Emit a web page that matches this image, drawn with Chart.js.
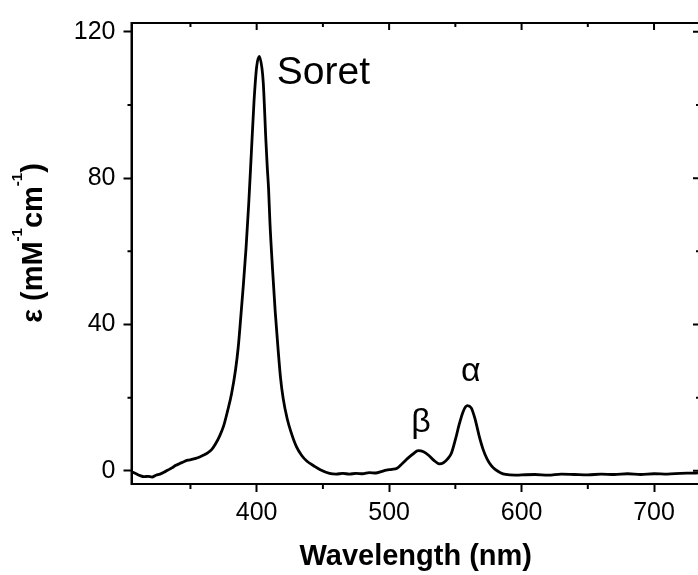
<!DOCTYPE html>
<html lang="en">
<head>
<meta charset="UTF-8">
<style>
  html, body { margin: 0; padding: 0; background: #fff; overflow: hidden; }
  #wrap { width: 704px; height: 575px; }
</style>
</head>
<body>
<div id="wrap"><canvas id="spec" width="704" height="575"></canvas></div>
<script src="https://cdn.jsdelivr.net/npm/chart.js@4.4.1/dist/chart.umd.min.js"></script>
<script>
// absorption spectrum
var wavelength = [306, 309, 312, 315, 318, 321, 324, 327, 330, 333, 336, 339, 342, 345, 348, 351, 354, 357, 360, 363, 366,
  369, 372, 375, 378, 381, 384, 386, 388, 390, 392, 394, 396, 398, 400, 402,
  404, 405, 407, 408, 409, 410, 412, 414, 416, 418, 420,
  423, 426, 430, 434, 438, 443, 448, 455, 460, 465, 470, 475, 480, 485, 490,
  494, 498, 502, 506, 510, 514, 518, 522, 526, 530, 534, 538,
  541, 544, 547, 550, 553, 556, 559, 562, 565, 568, 571, 574, 577, 580,
  584, 588, 595, 600, 610, 620, 630, 640, 650, 660, 670, 680, 690, 700, 710, 720, 730, 735];
var epsilon = [-0.3, -0.8, -1.3, -1.6, -1.5, -1.7, -1.2, -0.9, -0.4, 0.2, 0.8, 1.5, 2.0, 2.5, 2.9, 3.1, 3.4, 3.8, 4.3, 4.9, 5.8,
  7.4, 9.5, 12.2, 16.3, 21.0, 27.5, 33.5, 42, 51, 61, 73, 87, 101, 110.5, 113.3,
  110, 106, 90, 83, 77, 68, 55, 43.5, 34, 25.5, 19.8,
  14.3, 10.5, 6.6, 4.2, 2.6, 1.4, 0.3, -0.7, -0.9, -0.7, -0.9, -0.7, -0.8, -0.5, -0.6,
  -0.2, 0.2, 0.4, 0.7, 2.0, 3.4, 4.6, 5.5, 5.2, 4.2, 2.8, 1.9,
  2.2, 3.2, 4.8, 8.5, 12.8, 16.3, 17.8, 17.2, 14.0, 9.5, 5.8, 3.2, 1.5, 0.4,
  -0.5, -1.0, -1.2, -1.1, -1.0, -1.2, -0.9, -1.0, -1.1, -0.9, -1.0, -0.8, -1.0, -0.8, -0.9, -0.7, -0.6, -0.5];

var xMinor = [350, 450, 550, 650];
var xMajor = [400, 500, 600, 700];
var yMinor = [20, 60, 100];
var yMajor = [0, 40, 80, 120];

var FONT = '"Liberation Sans", Arial, sans-serif';

var points = wavelength.map(function (w, i) { return { x: w, y: epsilon[i] }; });

// box, minor ticks and the inward ticks on top / right
var frame = {
  id: 'frame',
  afterDraw: function (chart) {
    var ctx = chart.ctx, a = chart.chartArea;
    var sx = chart.scales.x, sy = chart.scales.y;
    ctx.save();
    ctx.strokeStyle = '#000';
    ctx.lineWidth = 2;
    ctx.strokeRect(a.left, a.top, a.right - a.left, a.bottom - a.top);
    ctx.beginPath();
    xMinor.forEach(function (v) {
      var p = sx.getPixelForValue(v);
      ctx.moveTo(p, a.bottom); ctx.lineTo(p, a.bottom + 5);
      ctx.moveTo(p, a.top); ctx.lineTo(p, a.top + 4);
    });
    xMajor.forEach(function (v) {
      var p = sx.getPixelForValue(v);
      ctx.moveTo(p, a.top); ctx.lineTo(p, a.top + 7);
    });
    yMinor.forEach(function (v) {
      var p = sy.getPixelForValue(v);
      ctx.moveTo(a.left, p); ctx.lineTo(a.left - 4, p);
      ctx.moveTo(a.right, p); ctx.lineTo(a.right - 4, p);
    });
    yMajor.forEach(function (v) {
      var p = sy.getPixelForValue(v);
      ctx.moveTo(a.right, p); ctx.lineTo(a.right - 7, p);
    });
    ctx.stroke();
    ctx.restore();
  }
};

// band names next to the peaks
var bands = {
  id: 'bands',
  afterDraw: function (chart) {
    var ctx = chart.ctx, sx = chart.scales.x, sy = chart.scales.y;
    ctx.save();
    ctx.fillStyle = '#000';
    ctx.textBaseline = 'alphabetic';
    ctx.font = '39px ' + FONT;
    ctx.textAlign = 'left';
    ctx.fillText('Soret', sx.getPixelForValue(415.2), sy.getPixelForValue(105.7));
    ctx.font = '34px ' + FONT;
    ctx.textAlign = 'center';
    ctx.fillText('β', sx.getPixelForValue(524), sy.getPixelForValue(10.5));
    ctx.fillText('α', sx.getPixelForValue(561.7), sy.getPixelForValue(24.5));
    ctx.restore();
  }
};

// rotated y title with superscripts
var yTitle = {
  id: 'yTitle',
  afterDraw: function (chart) {
    var ctx = chart.ctx;
    var parts = [['ε (mM', 0], ['-1', 1], ['cm', 0], ['-1', 1], [')', 0]];
    var big = 'bold 29px ' + FONT, small = 'bold 15px ' + FONT;
    ctx.save();
    var total = 0;
    parts.forEach(function (p) { ctx.font = p[1] ? small : big; total += ctx.measureText(p[0]).width; });
    ctx.translate(41.5, 243);
    ctx.rotate(-Math.PI / 2);
    ctx.fillStyle = '#000';
    ctx.textBaseline = 'alphabetic';
    ctx.textAlign = 'left';
    var x = -total / 2;
    parts.forEach(function (p) {
      ctx.font = p[1] ? small : big;
      ctx.fillText(p[0], x, p[1] ? -20 : 0);
      x += ctx.measureText(p[0]).width;
    });
    ctx.restore();
  }
};

var axisGrid = { drawOnChartArea: false, drawTicks: true, tickLength: 8, tickWidth: 2, tickColor: '#000', color: '#000' };
var axisBorder = { display: true, width: 2, color: '#000' };

new Chart(document.getElementById('spec'), {
  type: 'scatter',
  data: {
    datasets: [{
      data: points,
      showLine: true,
      borderColor: '#000',
      borderWidth: 2.8,
      pointRadius: 0,
      cubicInterpolationMode: 'monotone',
      fill: false
    }]
  },
  options: {
    responsive: false,
    animation: false,
    layout: { padding: { top: 18, right: 4, left: 0, bottom: 0 } },
    plugins: { legend: { display: false }, tooltip: { enabled: false } },
    scales: {
      x: {
        type: 'linear',
        min: 305.5,
        max: 734.7,
        afterFit: function (s) { s.height = 91; },
        grid: axisGrid,
        border: axisBorder,
        ticks: { stepSize: 100, includeBounds: false, autoSkip: false, maxRotation: 0, padding: 6, color: '#000', font: { family: FONT, size: 25 } },
        title: { display: true, text: 'Wavelength (nm)', color: '#000', font: { family: FONT, size: 29, weight: 'bold' }, padding: { top: 0, bottom: 1 } }
      },
      y: {
        min: -3.6,
        max: 122.4,
        afterFit: function (s) { s.width = 131.5; },
        grid: axisGrid,
        border: axisBorder,
        ticks: { stepSize: 40, includeBounds: false, padding: 8, color: '#000', font: { family: FONT, size: 25 } }
      }
    }
  },
  plugins: [frame, bands, yTitle]
});
</script>
</body>
</html>
